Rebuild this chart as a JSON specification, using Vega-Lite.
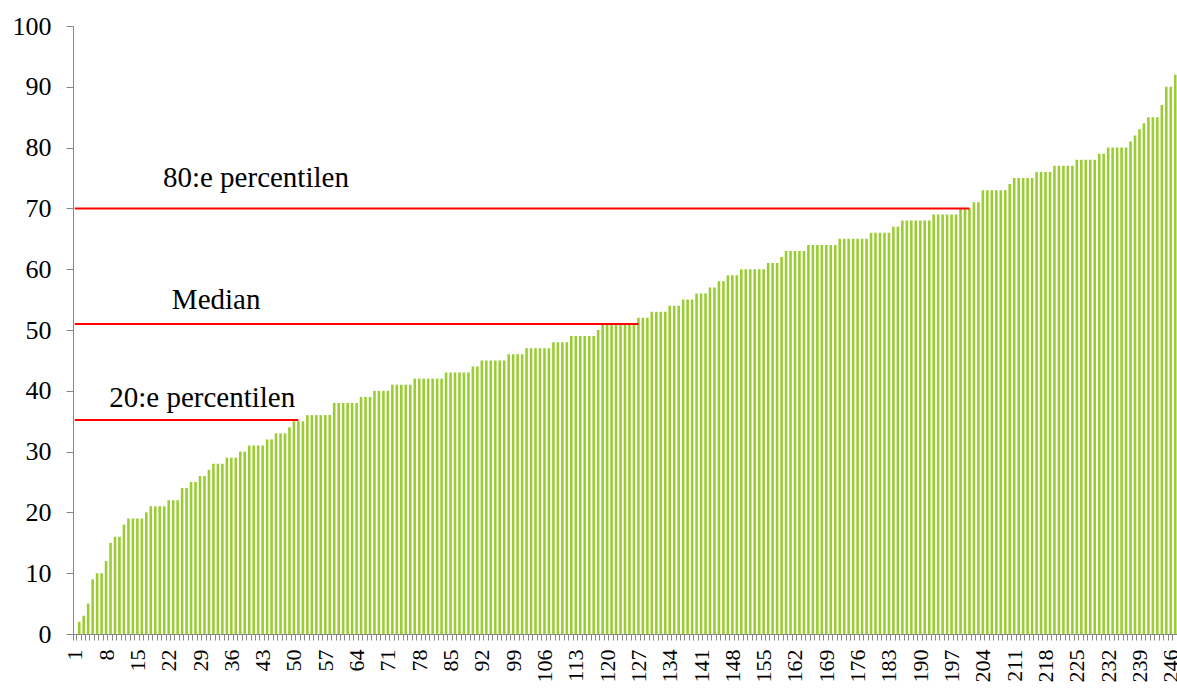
{
"$schema": "https://vega.github.io/schema/vega-lite/v6.json",
"width": 1104, "height": 608,
"autosize": "none",
"padding": {"left": 73, "top": 26, "right": 0, "bottom": 54},
"background": "white",
"config": {"view": {"stroke": null}, "font": "Liberation Serif", "axis": {"labelFont": "Liberation Serif", "labelColor": "black"}, "text": {"font": "Liberation Serif"}},
"datasets": {
"bars": [
{"i":1,"v":0},{"i":2,"v":2},{"i":3,"v":3},{"i":4,"v":5},{"i":5,"v":9},{"i":6,"v":10},{"i":7,"v":10},{"i":8,"v":12},{"i":9,"v":15},{"i":10,"v":16},
{"i":11,"v":16},{"i":12,"v":18},{"i":13,"v":19},{"i":14,"v":19},{"i":15,"v":19},{"i":16,"v":19},{"i":17,"v":20},{"i":18,"v":21},{"i":19,"v":21},{"i":20,"v":21},
{"i":21,"v":21},{"i":22,"v":22},{"i":23,"v":22},{"i":24,"v":22},{"i":25,"v":24},{"i":26,"v":24},{"i":27,"v":25},{"i":28,"v":25},{"i":29,"v":26},{"i":30,"v":26},
{"i":31,"v":27},{"i":32,"v":28},{"i":33,"v":28},{"i":34,"v":28},{"i":35,"v":29},{"i":36,"v":29},{"i":37,"v":29},{"i":38,"v":30},{"i":39,"v":30},{"i":40,"v":31},
{"i":41,"v":31},{"i":42,"v":31},{"i":43,"v":31},{"i":44,"v":32},{"i":45,"v":32},{"i":46,"v":33},{"i":47,"v":33},{"i":48,"v":33},{"i":49,"v":34},{"i":50,"v":35},
{"i":51,"v":35},{"i":52,"v":35},{"i":53,"v":36},{"i":54,"v":36},{"i":55,"v":36},{"i":56,"v":36},{"i":57,"v":36},{"i":58,"v":36},{"i":59,"v":38},{"i":60,"v":38},
{"i":61,"v":38},{"i":62,"v":38},{"i":63,"v":38},{"i":64,"v":38},{"i":65,"v":39},{"i":66,"v":39},{"i":67,"v":39},{"i":68,"v":40},{"i":69,"v":40},{"i":70,"v":40},
{"i":71,"v":40},{"i":72,"v":41},{"i":73,"v":41},{"i":74,"v":41},{"i":75,"v":41},{"i":76,"v":41},{"i":77,"v":42},{"i":78,"v":42},{"i":79,"v":42},{"i":80,"v":42},
{"i":81,"v":42},{"i":82,"v":42},{"i":83,"v":42},{"i":84,"v":43},{"i":85,"v":43},{"i":86,"v":43},{"i":87,"v":43},{"i":88,"v":43},{"i":89,"v":43},{"i":90,"v":44},
{"i":91,"v":44},{"i":92,"v":45},{"i":93,"v":45},{"i":94,"v":45},{"i":95,"v":45},{"i":96,"v":45},{"i":97,"v":45},{"i":98,"v":46},{"i":99,"v":46},{"i":100,"v":46},
{"i":101,"v":46},{"i":102,"v":47},{"i":103,"v":47},{"i":104,"v":47},{"i":105,"v":47},{"i":106,"v":47},{"i":107,"v":47},{"i":108,"v":48},{"i":109,"v":48},{"i":110,"v":48},
{"i":111,"v":48},{"i":112,"v":49},{"i":113,"v":49},{"i":114,"v":49},{"i":115,"v":49},{"i":116,"v":49},{"i":117,"v":49},{"i":118,"v":50},{"i":119,"v":51},{"i":120,"v":51},
{"i":121,"v":51},{"i":122,"v":51},{"i":123,"v":51},{"i":124,"v":51},{"i":125,"v":51},{"i":126,"v":51},{"i":127,"v":52},{"i":128,"v":52},{"i":129,"v":52},{"i":130,"v":53},
{"i":131,"v":53},{"i":132,"v":53},{"i":133,"v":53},{"i":134,"v":54},{"i":135,"v":54},{"i":136,"v":54},{"i":137,"v":55},{"i":138,"v":55},{"i":139,"v":55},{"i":140,"v":56},
{"i":141,"v":56},{"i":142,"v":56},{"i":143,"v":57},{"i":144,"v":57},{"i":145,"v":58},{"i":146,"v":58},{"i":147,"v":59},{"i":148,"v":59},{"i":149,"v":59},{"i":150,"v":60},
{"i":151,"v":60},{"i":152,"v":60},{"i":153,"v":60},{"i":154,"v":60},{"i":155,"v":60},{"i":156,"v":61},{"i":157,"v":61},{"i":158,"v":61},{"i":159,"v":62},{"i":160,"v":63},
{"i":161,"v":63},{"i":162,"v":63},{"i":163,"v":63},{"i":164,"v":63},{"i":165,"v":64},{"i":166,"v":64},{"i":167,"v":64},{"i":168,"v":64},{"i":169,"v":64},{"i":170,"v":64},
{"i":171,"v":64},{"i":172,"v":65},{"i":173,"v":65},{"i":174,"v":65},{"i":175,"v":65},{"i":176,"v":65},{"i":177,"v":65},{"i":178,"v":65},{"i":179,"v":66},{"i":180,"v":66},
{"i":181,"v":66},{"i":182,"v":66},{"i":183,"v":66},{"i":184,"v":67},{"i":185,"v":67},{"i":186,"v":68},{"i":187,"v":68},{"i":188,"v":68},{"i":189,"v":68},{"i":190,"v":68},
{"i":191,"v":68},{"i":192,"v":68},{"i":193,"v":69},{"i":194,"v":69},{"i":195,"v":69},{"i":196,"v":69},{"i":197,"v":69},{"i":198,"v":69},{"i":199,"v":70},{"i":200,"v":70},
{"i":201,"v":70},{"i":202,"v":71},{"i":203,"v":71},{"i":204,"v":73},{"i":205,"v":73},{"i":206,"v":73},{"i":207,"v":73},{"i":208,"v":73},{"i":209,"v":73},{"i":210,"v":74},
{"i":211,"v":75},{"i":212,"v":75},{"i":213,"v":75},{"i":214,"v":75},{"i":215,"v":75},{"i":216,"v":76},{"i":217,"v":76},{"i":218,"v":76},{"i":219,"v":76},{"i":220,"v":77},
{"i":221,"v":77},{"i":222,"v":77},{"i":223,"v":77},{"i":224,"v":77},{"i":225,"v":78},{"i":226,"v":78},{"i":227,"v":78},{"i":228,"v":78},{"i":229,"v":78},{"i":230,"v":79},
{"i":231,"v":79},{"i":232,"v":80},{"i":233,"v":80},{"i":234,"v":80},{"i":235,"v":80},{"i":236,"v":80},{"i":237,"v":81},{"i":238,"v":82},{"i":239,"v":83},{"i":240,"v":84},
{"i":241,"v":85},{"i":242,"v":85},{"i":243,"v":85},{"i":244,"v":87},{"i":245,"v":90},{"i":246,"v":90},{"i":247,"v":92}
],
"lines": [
{"name":"p80","start":1,"end":201,"value":70},
{"name":"median","start":1,"end":127,"value":51},
{"name":"p20","start":1,"end":51,"value":35.2}
],
"labels": [
{"label":"80:e percentilen","cat":21,"value":75},
{"label":"Median","cat":23,"value":55},
{"label":"20:e percentilen","cat":9,"value":38.8}
]
},
"layer": [
{
"data": {"name": "bars"},
"mark": {"type": "bar", "color": "#9ACD32"},
"encoding": {
"x": {"field": "i", "type": "ordinal", "title": null,
"scale": {"paddingInner": 0.42, "paddingOuter": 0.1},
"axis": {"labelExpr": "(datum.value - 1) % 7 === 0 ? datum.label : ''", "labelAngle": -90, "labelAlign": "right", "labelBaseline": "middle", "labelOverlap": false, "labelBound": false, "labelFlush": false, "labelFontSize": 22, "labelFont": "Liberation Serif", "labelColor": "black", "tickBand": "extent", "tickSize": 6, "tickColor": "#888888", "domainColor": "#888888", "labelPadding": 9}},
"y": {"field": "v", "type": "quantitative", "title": null,
"scale": {"domain": [0, 100]},
"axis": {"values": [0,10,20,30,40,50,60,70,80,90,100], "grid": false, "labelFontSize": 26, "labelFont": "Liberation Serif", "labelColor": "black", "tickSize": 7, "labelPadding": 15, "tickColor": "#888888", "domainColor": "#888888"}}
}
},
{
"data": {"name": "lines"},
"mark": {"type": "rule", "color": "#FF0000", "strokeWidth": 2},
"encoding": {
"x": {"field": "start", "type": "ordinal", "bandPosition": 0.5},
"x2": {"field": "end", "bandPosition": 0.5},
"y": {"field": "value", "type": "quantitative"}
}
},
{
"data": {"name": "labels"},
"mark": {"type": "text", "align": "left", "baseline": "middle", "fontSize": 29, "font": "Liberation Serif", "color": "black"},
"encoding": {
"x": {"field": "cat", "type": "ordinal", "bandPosition": 0},
"y": {"field": "value", "type": "quantitative"},
"text": {"field": "label"}
}
}
]
}
